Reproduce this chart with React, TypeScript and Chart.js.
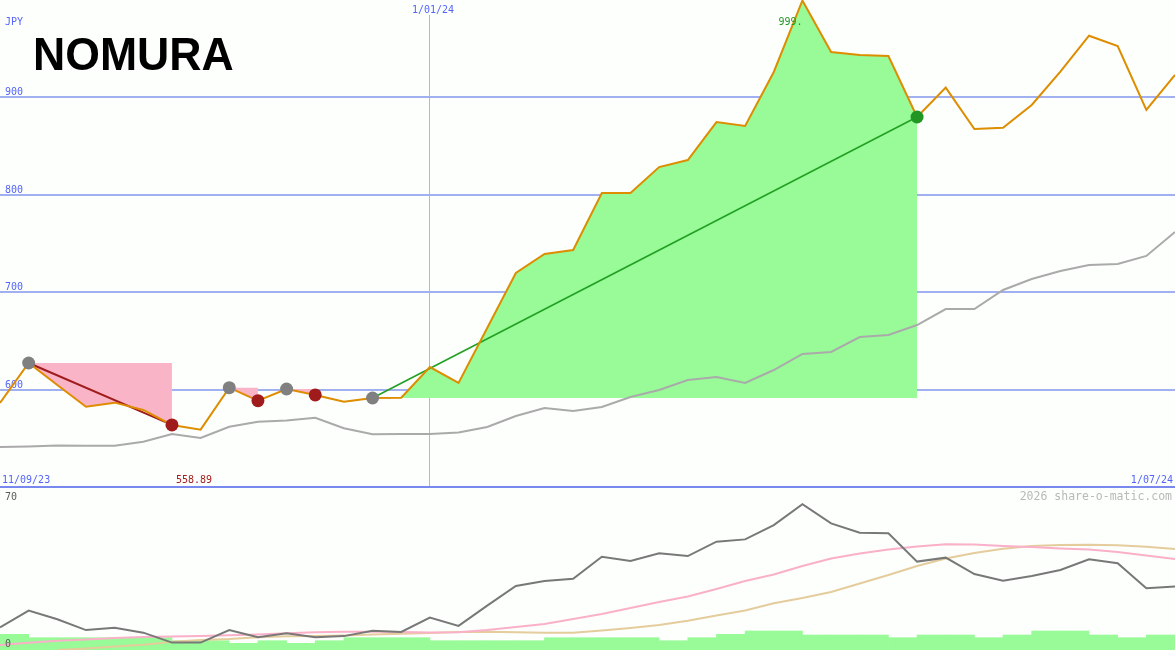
import React, { useEffect, useRef } from "react";
import { Chart, registerables } from "chart.js";
Chart.register(...registerables);

// ---------- data ----------
const startDateLabel = "11/09/23";
const midDateLabel = "1/01/24";
const endDateLabel = "1/07/24";
const midDateIndex = 15;
const currencyLabel = "JPY";
const maxLabel = "999.";
const watermark = "2026 share-o-matic.com";
const priceTicks = [600, 700, 800, 900];
const lowerTickLabels = ["70", "0"];

const priceJPY = [586.2, 627.3, 604.7, 582.4, 586.6, 579.1, 563.7, 558.89, 602.0, 588.6, 600.6, 594.5, 587.6, 591.4, 591.7, 623.2, 606.8, 663.2, 719.7, 739.2, 743.3, 801.8, 801.8, 828.5, 835.7, 874.7, 870.6, 926.1, 999.5, 946.6, 943.5, 942.5, 879.9, 910.0, 867.6, 868.9, 892.2, 926.4, 963.3, 952.8, 887.1, 923.0];
const movingAvg = [541.1, 541.6, 542.6, 542.4, 542.4, 546.5, 554.4, 550.3, 561.9, 567.0, 568.3, 571.1, 560.3, 554.1, 554.4, 554.4, 556.0, 561.6, 572.9, 581.1, 578.0, 582.1, 592.4, 599.6, 609.9, 612.9, 606.8, 620.1, 636.6, 638.6, 654.0, 656.1, 666.3, 682.7, 682.7, 702.3, 713.6, 721.8, 727.9, 729.0, 737.2, 761.8];

const grayDotIdx = [1, 8, 10, 13];
const redDotIdx = [6, 9, 11];
const greenDotIdx = [32];
const redTrend = [1, 6];
const greenTrend = [13, 32];
const pinkSpans = [[1, 6], [8, 9], [10, 11]];
const greenSpan = [13, 32];
const minLabelIdx = 6;

const oscLine = [9.8, 17.0, 13.3, 8.6, 9.6, 7.5, 3.2, 3.2, 8.6, 5.5, 7.2, 5.5, 6.0, 8.3, 7.8, 14.0, 10.4, 19.2, 27.7, 29.8, 30.8, 40.3, 38.5, 41.8, 40.6, 46.8, 47.8, 54.0, 63.0, 54.7, 50.7, 50.4, 38.2, 39.9, 32.8, 29.9, 32.0, 34.6, 39.2, 37.5, 26.7, 27.4];
const oscPink = [2.16, 3.15, 4.02, 4.54, 5.19, 5.62, 5.83, 6.05, 6.35, 6.70, 7.22, 7.65, 7.91, 7.91, 7.78, 7.56, 7.65, 8.64, 9.94, 11.23, 13.4, 15.56, 18.15, 20.74, 23.12, 26.36, 29.81, 32.62, 36.3, 39.54, 41.7, 43.43, 44.72, 45.67, 45.59, 44.94, 44.51, 43.86, 43.43, 42.35, 40.83, 39.32];
const oscTan = [null, null, 0.0, 0.65, 1.51, 2.29, 3.59, 4.32, 4.75, 5.49, 5.92, 6.05, 6.27, 6.70, 7.04, 7.35, 7.78, 7.91, 7.65, 7.48, 7.48, 8.43, 9.51, 10.8, 12.66, 14.91, 17.07, 20.18, 22.47, 25.06, 28.73, 32.41, 36.3, 39.54, 41.91, 43.77, 44.94, 45.37, 45.46, 45.24, 44.64, 43.64];
const volumeBars = [6.78, 5.31, 5.31, 5.31, 5.31, 5.31, 4.02, 4.02, 2.89, 4.02, 2.89, 4.02, 5.31, 5.31, 5.31, 4.02, 4.02, 4.02, 4.02, 5.31, 5.31, 5.31, 5.31, 4.02, 5.31, 6.78, 8.21, 8.21, 6.48, 6.48, 6.48, 5.31, 6.48, 6.48, 5.31, 6.48, 8.21, 8.21, 6.48, 5.31, 6.48];

// ---------- styles ----------
const BG = "rgb(252,255,252)";
const ORANGE = "rgb(222,140,0)";
const MA_GRAY = "rgb(170,170,170)";
const PINK = "rgb(250,180,200)";
const PALE_GREEN = "rgb(152,251,152)";
const DOT_GRAY = "rgb(128,128,128)";
const DARK_RED = "rgb(160,28,28)";
const TREND_GREEN = "rgb(34,160,34)";
const DOT_GREEN = "rgb(34,150,34)";
const GRID_BLUE = "rgb(160,176,240)";
const VLINE = "rgb(170,182,236)";
const LABEL_BLUE = "rgb(85,100,250)";
const SEP = "rgb(120,136,238)";
const BOT_GRAY = "rgb(120,120,120)";
const BOT_PINK = "rgb(250,176,200)";
const BOT_TAN = "rgb(228,204,156)";
const MONO = "'DejaVu Sans Mono', monospace";

const range = (a: number, b: number) => {
  const r: number[] = [];
  for (let i = a; i <= b; i++) r.push(i);
  return r;
};
const P = (i: number) => ({ x: i, y: priceJPY[i] });
const series = (arr: (number | null)[]) => arr.map((v, i) => ({ x: i, y: v }));

// horizontal price grid drawn from the y scale
const priceGrid = {
  id: "priceGrid",
  beforeDatasetsDraw(chart: any) {
    const ctx = chart.ctx;
    const ys = chart.scales.y;
    const area = chart.chartArea;
    ctx.save();
    ctx.strokeStyle = GRID_BLUE;
    ctx.lineWidth = 2;
    ctx.font = `10px ${MONO}`;
    ctx.fillStyle = LABEL_BLUE;
    ctx.textAlign = "left";
    ctx.textBaseline = "alphabetic";
    priceTicks.forEach((v) => {
      const y = Math.round(ys.getPixelForValue(v));
      ctx.beginPath();
      ctx.moveTo(area.left, y);
      ctx.lineTo(area.right, y);
      ctx.stroke();
      ctx.fillText(String(v), 5, y - 2);
    });
    ctx.restore();
  },
};

const topText = {
  id: "topText",
  afterDatasetsDraw(chart: any) {
    const ctx = chart.ctx;
    const xs = chart.scales.x;
    ctx.save();
    ctx.font = `10px ${MONO}`;
    ctx.textBaseline = "alphabetic";
    ctx.textAlign = "left";
    ctx.fillStyle = LABEL_BLUE;
    ctx.fillText(currencyLabel, 5, 25);
    const mx = xs.getPixelForValue(midDateIndex);
    ctx.fillStyle = BG;
    ctx.fillRect(mx - 19, 0, 45, 15);
    ctx.fillStyle = LABEL_BLUE;
    ctx.fillText(midDateLabel, mx - 18, 13);
    ctx.fillText(startDateLabel, 2, 483);
    ctx.textAlign = "right";
    ctx.fillText(endDateLabel, 1173, 483);
    ctx.textAlign = "left";
    ctx.fillStyle = DARK_RED;
    const minV = Math.min(...priceJPY);
    ctx.fillText(minV.toFixed(2), xs.getPixelForValue(minLabelIdx) + 4, 483);
    ctx.fillStyle = DOT_GREEN;
    const peakIdx = priceJPY.indexOf(Math.max(...priceJPY));
    ctx.fillText(maxLabel, xs.getPixelForValue(peakIdx) - 24, 25);
    ctx.restore();
  },
};

const botText = {
  id: "botText",
  afterDatasetsDraw(chart: any) {
    const ctx = chart.ctx;
    ctx.save();
    ctx.font = `10px ${MONO}`;
    ctx.textBaseline = "alphabetic";
    ctx.textAlign = "left";
    ctx.fillStyle = "rgb(90,90,90)";
    ctx.fillText(lowerTickLabels[0], 5, 11.5);
    ctx.fillText(lowerTickLabels[1], 5, 159);
    ctx.font = `11.5px ${MONO}`;
    ctx.textAlign = "right";
    ctx.fillStyle = "rgb(185,185,185)";
    ctx.fillText(watermark, 1172, 12);
    ctx.restore();
  },
};

const xAxis = (max: number) => ({
  type: "linear",
  min: 0,
  max,
  offset: false,
  border: { display: false },
  ticks: { display: false },
  grid: { color: VLINE, lineWidth: 1, drawTicks: false },
  afterBuildTicks: (axis: any) => {
    axis.ticks = [{ value: midDateIndex }];
  },
});

export default function App() {
  const topRef = useRef<HTMLCanvasElement>(null);
  const botRef = useRef<HTMLCanvasElement>(null);

  useEffect(() => {
    const lineBase = { pointRadius: 0, tension: 0, fill: false };
    const dot = (idx: number[], color: string) => ({
      type: "line",
      data: idx.map(P),
      showLine: false,
      pointRadius: 6.5,
      pointHoverRadius: 6.5,
      pointBackgroundColor: color,
      pointBorderWidth: 0,
      order: 0,
    });

    const top = new Chart(topRef.current as HTMLCanvasElement, {
      type: "line",
      data: {
        datasets: [
          dot(grayDotIdx, DOT_GRAY),
          dot(redDotIdx, DARK_RED),
          dot(greenDotIdx, DOT_GREEN),
          { ...lineBase, data: series(priceJPY), borderColor: ORANGE, borderWidth: 2, order: 1 },
          { ...lineBase, data: redTrend.map(P), borderColor: DARK_RED, borderWidth: 2, order: 2 },
          { ...lineBase, data: greenTrend.map(P), borderColor: TREND_GREEN, borderWidth: 1.6, order: 2 },
          { ...lineBase, data: series(movingAvg), borderColor: MA_GRAY, borderWidth: 2, order: 3 },
          ...pinkSpans.map(([a, b]) => ({
            ...lineBase,
            data: range(a, b).map(P),
            fill: { value: priceJPY[a] },
            backgroundColor: PINK,
            borderColor: "transparent",
            borderWidth: 0,
            order: 4,
          })),
          {
            ...lineBase,
            data: range(greenSpan[0], greenSpan[1]).map(P),
            fill: { value: priceJPY[greenSpan[0]] },
            backgroundColor: PALE_GREEN,
            borderColor: "transparent",
            borderWidth: 0,
            order: 5,
          },
        ] as any,
      },
      options: {
        responsive: false,
        animation: false,
        devicePixelRatio: 1,
        layout: { padding: 0, autoPadding: false },
        plugins: { legend: { display: false }, tooltip: { enabled: false } },
        events: [],
        scales: {
          x: xAxis(priceJPY.length - 1),
          y: { type: "linear", min: 500, max: 1000, display: false },
        } as any,
      },
      plugins: [priceGrid, topText],
    } as any);

    const bot = new Chart(botRef.current as HTMLCanvasElement, {
      type: "line",
      data: {
        datasets: [
          { ...lineBase, data: series(oscLine), borderColor: BOT_GRAY, borderWidth: 2, order: 0 },
          { ...lineBase, data: series(oscPink), borderColor: BOT_PINK, borderWidth: 2, order: 1 },
          { ...lineBase, data: series(oscTan), borderColor: BOT_TAN, borderWidth: 2, order: 2 },
          {
            type: "bar",
            data: volumeBars.map((v, i) => ({ x: i + 0.5, y: v })),
            backgroundColor: PALE_GREEN,
            borderWidth: 0,
            barPercentage: 1,
            categoryPercentage: 1,
            order: 3,
          },
        ] as any,
      },
      options: {
        responsive: false,
        animation: false,
        devicePixelRatio: 1,
        layout: { padding: 0, autoPadding: false },
        plugins: { legend: { display: false }, tooltip: { enabled: false } },
        events: [],
        scales: {
          x: xAxis(priceJPY.length - 1),
          y: { type: "linear", min: 0, max: 70, display: false },
        } as any,
      },
      plugins: [botText],
    } as any);

    return () => {
      top.destroy();
      bot.destroy();
    };
  }, []);

  return (
    <div style={{ position: "fixed", left: 0, top: 0, width: 1175, height: 650, background: BG, overflow: "hidden" }}>
      <canvas ref={topRef} width={1175} height={487} style={{ position: "absolute", left: 0, top: 0, width: 1175, height: 487 }} />
      <canvas ref={botRef} width={1175} height={162} style={{ position: "absolute", left: 0, top: 488, width: 1175, height: 162 }} />
      <div style={{ position: "absolute", left: 0, top: 486, width: 1175, height: 2, background: SEP }} />
      <div
        style={{
          position: "absolute",
          left: 33,
          top: 31,
          fontFamily: "'Liberation Sans', Arial, sans-serif",
          fontWeight: 700,
          fontSize: 46,
          lineHeight: "46px",
          color: "#000",
          transform: "scaleX(0.97)",
          transformOrigin: "left top",
          whiteSpace: "nowrap",
        }}
      >
        NOMURA
      </div>
    </div>
  );
}
